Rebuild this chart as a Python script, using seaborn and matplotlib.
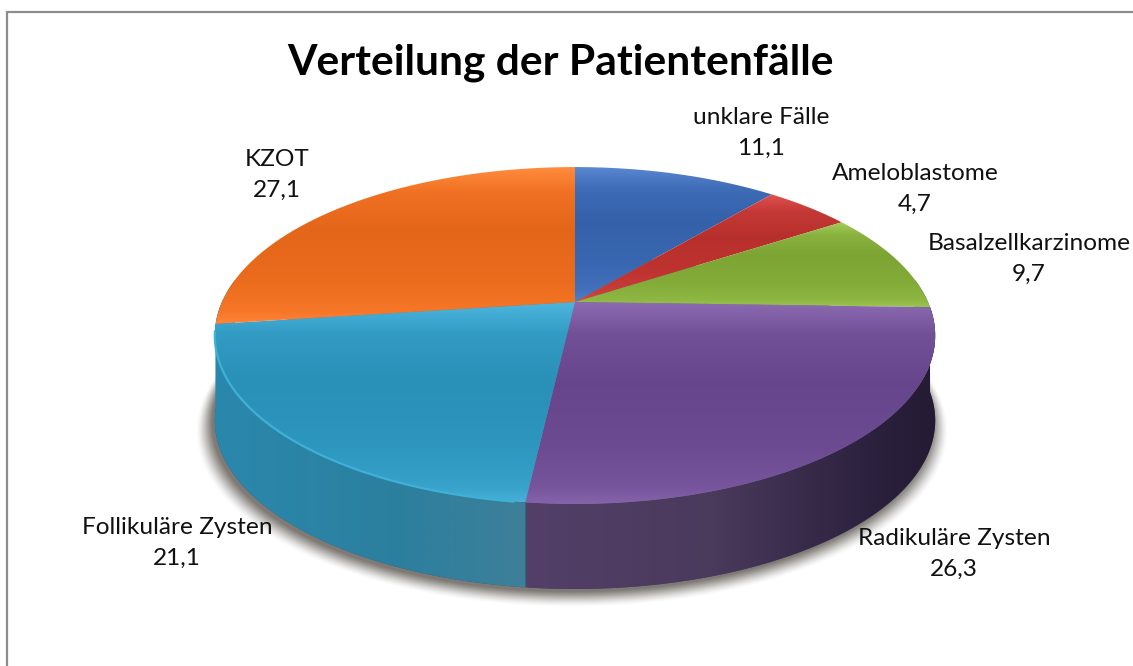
import numpy as np
import matplotlib
matplotlib.use("Agg")
import matplotlib.pyplot as plt
import seaborn as sns
from matplotlib.path import Path
from matplotlib.patches import PathPatch
from matplotlib.lines import Line2D
from matplotlib.colors import to_rgb

sns.set_theme(style="white")
plt.rcParams['font.family'] = ['Lato', 'DejaVu Sans']

title = "Verteilung der Patientenfälle"
categories = ["unklare Fälle", "Ameloblastome", "Basalzellkarzinome",
              "Radikuläre Zysten", "Follikuläre Zysten", "KZOT"]
values = [11.1, 4.7, 9.7, 26.3, 21.1, 27.1]
value_labels = ["11,1", "4,7", "9,7", "26,3", "21,1", "27,1"]
colors = ["#3563ad", "#bb302d", "#7fa835", "#69478f", "#2a93bb", "#e8681a"]
label_centres = [(761, 133), (915, 189), (1029, 259), (954, 554), (177, 543), (277, 175)]

W, H = 1133, 666
CX, CY = 575, 302
RX, SY, PERSP = 353.0, 161.8, 0.199
DEPTH = 85


def project(u, v):
    d = 1 + PERSP * v
    return CX + RX * u / d, CY - SY * v / d


def gradient_image(stops):
    t = np.linspace(0, 1, 256)
    pos = [s[0] for s in stops]
    return np.stack([np.interp(t, pos, [s[1][i] for s in stops]) for i in range(3)], axis=-1)


def scaled(c, f):
    r = np.array(to_rgb(c))
    if f <= 1:
        return tuple(r * f)
    return tuple(np.clip(r * (1 + (f - 1) * 0.7) + (1 - r) * (f - 1) * 0.7, 0, 1))


fig = plt.figure(figsize=(W / 100, H / 100), dpi=100)
ax = fig.add_axes([0, 0, 1, 1])

# Wedge angles come from the library's own pie layout (clockwise from the top)
wedges, _ = ax.pie(values, startangle=90, counterclock=False, radius=1, center=(0, 0))
geoms = []
for w in wedges:
    geoms.append((w.theta1, w.theta2))
    w.remove()

ax.set_aspect('auto')
ax.axis('off')

# Soft shadow under the disc
ang = np.linspace(0, 2 * np.pi, 721)
sx, sy = project(np.cos(ang), np.sin(ang))
for grow, alpha in zip(np.linspace(15, 0, 16), np.linspace(0.015, 0.11, 16)):
    ax.fill(CX + (sx - CX) * (1 + grow / 360) - 3, sy + DEPTH + 3 + grow * 0.45 + (sy - CY) * grow / 400,
            color="#40382f", alpha=alpha, lw=0, zorder=1)

# Wall backing so no seam shows between the two visible wall pieces
a_all = np.radians(np.linspace(-8, 188, 500)) * -1
bx, by = project(np.cos(a_all), np.sin(a_all))
back = np.r_[np.c_[bx, by], np.c_[bx[::-1], by[::-1] + DEPTH]]
ax.fill(back[:, 0], back[:, 1], color="#3f4f6a", lw=0, zorder=1.5)

# Side wall: visible lower rim of each slice
for (t1, t2), c in zip(geoms, colors):
    a = np.radians(np.linspace(t1, t2, 300))
    keep = np.sin(a) < 0.12
    if not keep.any():
        continue
    a = a[keep]
    x, y = project(np.cos(a), np.sin(a))
    verts = np.r_[np.c_[x, y], np.c_[x[::-1], y[::-1] + DEPTH]]
    patch = PathPatch(Path(np.r_[verts, verts[:1]]), fc="none", ec="none", zorder=2)
    ax.add_patch(patch)
    if c == colors[3]:
        stops = [(0, to_rgb("#533f68")), (0.45, to_rgb("#4a3a5c")), (0.8, to_rgb("#2e2340")), (1, to_rgb("#241a33"))]
        ext = (527, 940)
    else:
        stops = [(0, to_rgb("#2a88ad")), (0.6, to_rgb("#2c7f9e")), (1, to_rgb("#3f7f99"))]
        ext = (212, 530)
    im = ax.imshow(gradient_image(stops)[None, :, :], extent=(ext[0], ext[1], 600, 300),
                   aspect='auto', zorder=2, interpolation='bilinear')
    im.set_clip_path(patch)

# Top face: each slice has its own vertical sheen
for (t1, t2), c in zip(geoms, colors):
    a = np.radians(np.linspace(t1, t2, 300))
    u = np.r_[0, np.cos(a), 0]
    v = np.r_[0, np.sin(a), 0]
    px, py = project(u, v)
    patch = PathPatch(Path(np.c_[px, py]), fc="none", ec="none", zorder=3)
    ax.add_patch(patch)
    stops = [(0, scaled(c, 1.2)), (0.16, scaled(c, 1.05)), (0.4, scaled(c, 0.98)),
             (0.72, scaled(c, 1.02)), (0.92, scaled(c, 1.08)), (1, scaled(c, 1.16))]
    im = ax.imshow(gradient_image(stops)[:, None, :], extent=(px.min(), px.max(), py.max(), py.min()),
                   aspect='auto', zorder=3, interpolation='bilinear')
    im.set_clip_path(patch)

ax.set_xlim(0, W)
ax.set_ylim(H, 0)

# Bright bevel along the lower left rim
a = np.radians(np.linspace(190, 262, 200))
x, y = project(np.cos(a), np.sin(a))
ax.plot(x, y, color="#3fb0d6", lw=1.6, zorder=4, solid_capstyle='round')

# Frame (left + top visible)
for xs, ys in [((6.5, 6.5), (12, H)), ((6.5, W), (12, 12))]:
    ax.add_line(Line2D(xs, ys, color="#8c8c8c", lw=1.6, zorder=0))

ax.text(560, 63, title, ha='center', va='center', fontsize=30.6, fontweight='bold', color='black')
for (lx, ly), name, val in zip(label_centres, categories, value_labels):
    ax.text(lx, ly, f"{name}\n{val}", ha='center', va='center', fontsize=17.6,
            color='#111111', linespacing=1.62, zorder=6)

fig.savefig("out.png", dpi=100, facecolor='white')
